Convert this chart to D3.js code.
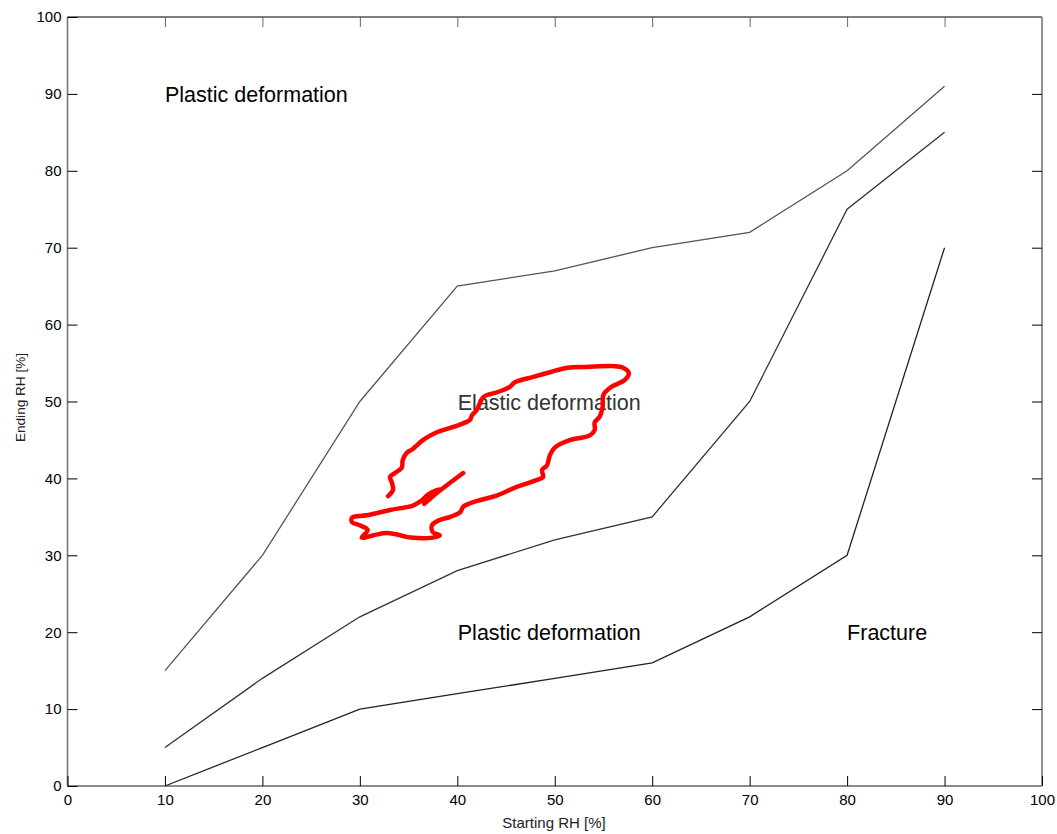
<!DOCTYPE html>
<html>
<head>
<meta charset="utf-8">
<script src="https://cdn.jsdelivr.net/npm/d3@7"></script>
<style>
  body { margin: 0; background: #fff; }
  svg { display: block; font-family: "Liberation Sans", Arial, sans-serif; }
</style>
</head>
<body>
<svg id="chart" width="1057" height="834"></svg>
<script>
// Data
const startRH = [10, 20, 30, 40, 50, 60, 70, 80, 90];
const upperBound = [15, 30, 50, 65, 67, 70, 72, 80, 91];
const elasticLower = [5, 14, 22, 28, 32, 35, 50, 75, 85];
const fractureBound = [0, 5, 10, 12, 14, 16, 22, 30, 70];

const loopX = [32.9, 33.4, 33.3, 33.1, 33.6, 34.3, 34.4, 34.8, 35.4, 36.5, 37.9, 39.6, 41.3, 41.5, 42.0, 42.7,
  44.1, 45.4, 45.9, 47.8, 49.5, 51.3, 53.3, 56.0, 57.0, 57.6, 57.2, 55.7, 55.0, 54.9, 54.6, 54.1, 54.1, 53.6,
  51.6, 50.0, 49.5, 49.2, 48.7, 48.8, 48.2, 46.1, 44.1, 41.6, 40.6, 40.3, 39.3, 38.2, 37.4, 37.5, 38.2, 37.5,
  35.2, 34.8, 32.8, 31.4, 30.2, 30.8, 30.0, 29.2, 29.2, 30.7, 33.1, 35.5, 36.4, 36.9, 37.4, 38.2, 36.6, 37.4, 40.6];
const loopY = [37.7, 38.5, 39.4, 40.2, 40.7, 41.4, 42.4, 43.3, 43.8, 45.0, 46.0, 46.7, 47.6, 48.2, 48.9, 50.6,
  51.2, 51.9, 52.5, 53.2, 53.8, 54.4, 54.5, 54.6, 54.4, 53.7, 52.8, 51.8, 50.9, 49.2, 48.0, 47.3, 46.3, 45.6,
  45.0, 44.0, 43.0, 41.7, 41.1, 40.2, 39.8, 38.9, 37.8, 36.9, 36.3, 35.6, 35.0, 34.6, 33.9, 33.0, 32.6, 32.3,
  32.3, 32.4, 32.9, 32.6, 32.3, 33.3, 33.9, 34.3, 34.9, 35.2, 35.9, 36.5, 37.2, 37.8, 38.2, 38.6, 36.7, 37.6, 40.7];

const tickValues = [0, 10, 20, 30, 40, 50, 60, 70, 80, 90, 100];
const regionLabels = ["Plastic deformation", "Elastic deformation", "Plastic deformation", "Fracture"];
const regionX = [10, 40.05, 40.05, 80];
const regionY = [90, 50, 20, 20];
const xTitle = "Starting RH [%]";
const yTitle = "Ending RH [%]";

const svg = d3.select("#chart");
const L = 67.5, R = 1042, T = 17, B = 786;
const x = d3.scaleLinear().domain([0, 100]).range([L, R]);
const y = d3.scaleLinear().domain([0, 100]).range([B, T]);

// frame
svg.append("line").attr("x1", L).attr("x2", R).attr("y1", T).attr("y2", T).attr("stroke", "#000").attr("stroke-width", 1.2);
svg.append("line").attr("x1", L).attr("x2", R).attr("y1", B).attr("y2", B).attr("stroke", "#666").attr("stroke-width", 1.6);
svg.append("line").attr("x1", L).attr("x2", L).attr("y1", T).attr("y2", B).attr("stroke", "#777").attr("stroke-width", 1.6);
svg.append("line").attr("x1", R).attr("x2", R).attr("y1", T).attr("y2", B).attr("stroke", "#777").attr("stroke-width", 1.6);

// axes with inward ticks
const xAxis = d3.axisBottom(x).tickValues(tickValues).tickSizeInner(-10).tickSizeOuter(0).tickPadding(8);
const gx = svg.append("g").attr("transform", `translate(0,${B})`).call(xAxis);
gx.select(".domain").remove();
gx.selectAll("text").attr("font-size", 15).attr("fill", "#000").attr("font-family", "Liberation Sans, Arial, sans-serif");
gx.selectAll("line").attr("stroke", "#000");

const xAxisTop = d3.axisTop(x).tickValues(tickValues.slice(1, -1)).tickSizeInner(-10).tickSizeOuter(0).tickFormat("");
const gxt = svg.append("g").attr("transform", `translate(0,${T})`).call(xAxisTop);
gxt.select(".domain").remove();
gxt.selectAll("line").attr("stroke", "#666");

const yAxis = d3.axisLeft(y).tickValues(tickValues).tickSizeInner(-10).tickSizeOuter(0).tickPadding(6);
const gy = svg.append("g").attr("transform", `translate(${L},0)`).call(yAxis);
gy.select(".domain").remove();
gy.selectAll("text").attr("font-size", 15).attr("fill", "#000").attr("font-family", "Liberation Sans, Arial, sans-serif");
gy.selectAll("line").attr("stroke", "#000");

const yAxisRight = d3.axisRight(y).tickValues(tickValues.slice(1, -1)).tickSizeInner(-10).tickSizeOuter(0).tickFormat("");
const gyr = svg.append("g").attr("transform", `translate(${R},0)`).call(yAxisRight);
gyr.select(".domain").remove();
gyr.selectAll("line").attr("stroke", "#000");

// axis titles
svg.append("text").attr("x", 554).attr("y", 828).attr("text-anchor", "middle")
  .attr("font-size", 15).attr("fill", "#222").text(xTitle);
svg.append("text").attr("transform", `translate(25,397.5) rotate(-90)`).attr("text-anchor", "middle")
  .attr("font-size", 13.6).attr("fill", "#222").text(yTitle);

// boundary lines
const line = d3.line().x((d) => x(d[0])).y((d) => y(d[1]));
[[upperBound, "#555"], [elasticLower, "#333"], [fractureBound, "#222"]].forEach(([vals, c]) => {
  svg.append("path").datum(startRH.map((s, i) => [s, vals[i]]))
    .attr("d", line).attr("fill", "none").attr("stroke", c).attr("stroke-width", 1.3);
});

// region labels
regionLabels.forEach((t, i) => {
  svg.append("text").attr("x", x(regionX[i])).attr("y", y(regionY[i]) + 8)
    .attr("text-anchor", "start")
    .attr("font-size", 21.5).attr("fill", i === 1 ? "#333" : "#000").text(t);
});

// red loop
svg.append("path").datum(loopX.map((v, i) => [v, loopY[i]]))
  .attr("d", d3.line().x((d) => x(d[0])).y((d) => y(d[1])).curve(d3.curveCatmullRom.alpha(0.5)))
  .attr("fill", "none").attr("stroke", "#ff0000").attr("stroke-width", 4.5)
  .attr("stroke-linejoin", "round").attr("stroke-linecap", "round");
</script>
</body>
</html>
